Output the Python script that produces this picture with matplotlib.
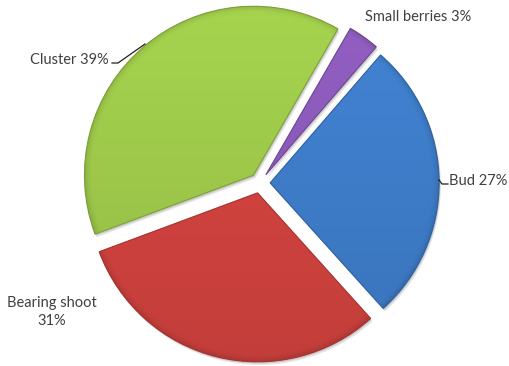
import numpy as np
import matplotlib.pyplot as plt
from matplotlib.colors import to_rgb
from matplotlib.patches import Wedge

# share of damage by organ
labels = ["Small berries", "Bud", "Bearing shoot", "Cluster"]
shares = [3, 27, 31, 39]
colors = ["#8A5AB8", "#3E7CC8", "#CF423E", "#9DC84A"]

W, H = 509, 366
CX, CY, R = 260, 183, 169  # pie centre and radius in pixels


def px(x, y):
    # pixel position -> data units of a unit pie
    return (x - CX) / R, (CY - y) / R


fig = plt.figure(figsize=(W / 100, H / 100), dpi=100)
ax = fig.add_axes([0, 0, 1, 1])

wedges, _ = ax.pie(
    shares,
    colors=colors,
    startangle=60,
    counterclock=False,
    explode=[0.06] * len(shares),
    radius=1,
    wedgeprops=dict(linewidth=0),
)

x0, y0 = px(0, H)
x1, y1 = px(W, 0)
ax.set_xlim(x0, x1)
ax.set_ylim(y0, y1)
ax.set_aspect("equal")
ax.axis("off")

# soft drop shadow, then shaded fill clipped to each wedge
gx, gy = np.meshgrid(np.linspace(x0, x1, W), np.linspace(y1, y0, H))
for w, c in zip(wedges, colors):
    for k, a in [(0.018, 0.10), (0.010, 0.12)]:
        sh = Wedge((w.center[0] + k * 0.6, w.center[1] - k), w.r, w.theta1, w.theta2,
                   facecolor="#000000", alpha=a, linewidth=0, zorder=0.5)
        ax.add_patch(sh)

    base = np.array(to_rgb(c))
    cxw, cyw = w.center
    dist = np.hypot(gx - cxw, gy - cyw)
    vert = 1.06 - 0.12 * (cyw + 1 - gy) / 2
    rim = np.clip((dist - 0.95) / 0.05, 0, 1)
    shade = vert - 0.12 * rim ** 2
    img = np.clip(base[None, None, :] * shade[..., None], 0, 1)
    im = ax.imshow(img, extent=(x0, x1, y0, y1), origin="upper", zorder=2,
                   interpolation="bilinear")
    im.set_clip_path(w)
    w.set_zorder(1)
    edge = Wedge(w.center, w.r, w.theta1, w.theta2, facecolor="none",
                 edgecolor=tuple(base * 0.8), linewidth=0.8, zorder=3)
    ax.add_patch(edge)

ax.set_xlim(x0, x1)
ax.set_ylim(y0, y1)

txt = dict(color="#404040", fontsize=10.5, family="Lato", zorder=5)

ax.text(*px(365, 17), f"{labels[0]} {shares[0]}%", ha="left", va="center", **txt)
ax.text(*px(449, 181), f"{labels[1]} {shares[1]}%", ha="left", va="center", **txt)
ax.text(*px(52, 312), f"{labels[2]}\n{shares[2]}%", ha="center", va="center",
        linespacing=1.35, **txt)
ax.text(*px(109, 60), f"{labels[3]} {shares[3]}%", ha="right", va="center", **txt)

# leader lines
lx, ly = zip(px(112, 63), px(118, 63), px(145, 44))
ax.plot(lx, ly, color="#202020", lw=0.9, zorder=5)
lx, ly = zip(px(439, 180), px(442, 184), px(448, 184))
ax.plot(lx, ly, color="#202020", lw=0.9, zorder=5)

fig.savefig("out.png", dpi=100)
